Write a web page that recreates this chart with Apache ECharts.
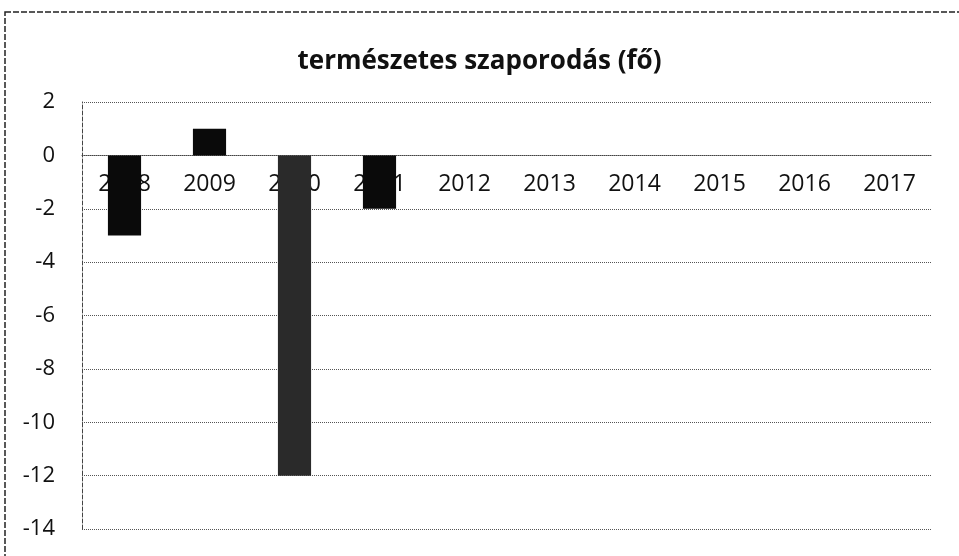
<!DOCTYPE html>
<html>
<head>
<meta charset="utf-8">
<script src="https://cdn.jsdelivr.net/npm/echarts@6/dist/echarts.min.js"></script>
<style>
  html, body { margin: 0; padding: 0; background: #fff; }
  #chart { width: 959px; height: 556px; }
</style>
</head>
<body>
<div id="chart"></div>
<script>
// adatok
const years = ['2008', '2009', '2010', '2011', '2012', '2013', '2014', '2015', '2016', '2017']
const szaporodas = [-3, 1, -12, -2, 0, 0, 0, 0, 0, 0]
const yTicks = { min: -14, max: 2, interval: 2 }

const chart = echarts.init(document.getElementById('chart'))
chart.setOption({
  animation: false,
  graphic: [{
    type: 'rect',
    shape: { x: 5, y: 12, width: 990, height: 600 },
    style: { fill: 'none', stroke: '#222', lineWidth: 1.5, lineDash: [6, 2] }
  }],
  title: {
    text: 'természetes szaporodás (fő)',
    left: 'center',
    top: 44,
    textStyle: {
      fontFamily: 'Open Sans',
      fontWeight: 'bold',
      fontSize: 26,
      color: '#111'
    }
  },
  grid: { left: 82, right: 27, top: 102, bottom: 27 },
  xAxis: {
    type: 'category',
    data: years,
    // a tengely a 0 vonalon, a feliratok alatta
    offset: -374,
    axisLine: { onZero: false, lineStyle: { color: '#444', type: 'dotted' } },
    axisTick: { show: false },
    axisLabel: {
      margin: 18,
      fontFamily: 'Open Sans',
      fontSize: 23,
      color: '#111'
    }
  },
  yAxis: {
    type: 'value',
    min: yTicks.min,
    max: yTicks.max,
    interval: yTicks.interval,
    axisLine: { show: true, lineStyle: { color: '#444', type: 'dashed' } },
    axisTick: { show: false },
    axisLabel: {
      margin: 27,
      fontFamily: 'Open Sans',
      fontSize: 22,
      color: '#111'
    },
    splitLine: { lineStyle: { color: '#555', type: 'dotted' } }
  },
  series: [{
    type: 'bar',
    data: szaporodas,
    barWidth: '39%',
    z: 3,
    itemStyle: {
      color: (p) => p.dataIndex === 2 ? '#2a2a2a' : '#0a0a0a'
    }
  }]
})
</script>
</body>
</html>
